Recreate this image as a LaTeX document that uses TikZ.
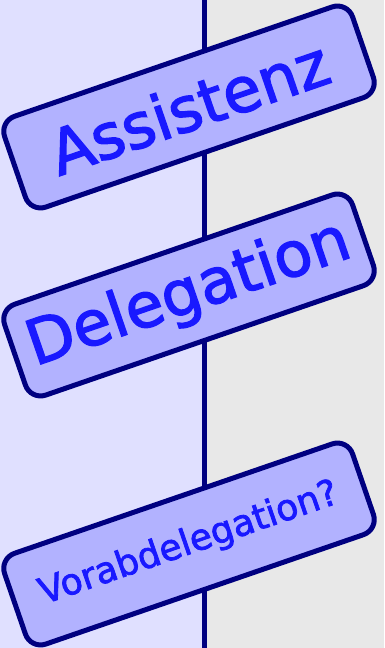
\documentclass[tikz,border=0pt]{standalone}
\usepackage{fontspec}
\newfontfamily\signfont[FakeBold=2.2]{DejaVu Sans}
\usetikzlibrary{positioning}

\begin{document}
\begin{tikzpicture}[x=1pt,y=1pt,
    sign/.style={draw=blue!50!black,fill=blue!30!white,text=blue!90!white,line width=5pt,rounded corners=16pt,minimum width=368pt,minimum height=96pt,inner sep=0pt,rotate=19},
    big/.style={font=\signfont\fontsize{62}{70}\selectfont},
    small/.style={font=\signfont\fontsize{36}{42}\selectfont}]
    % two halves of the background
    \fill[blue!12!white] (0,0) rectangle (204.5,648);
    \fill[gray!18!white] (204.5,0) rectangle (384,648);
    \useasboundingbox (0,0) rectangle (384,648);

    \coordinate (top) at (204.5,648);
    \coordinate (bottom) at (204.5,0);
    \draw[blue!50!black,line width=5pt] (top) -- (bottom);

    \node[sign,big] (assistenz) at (189,541) {Assistenz};
    \node[sign,big] (delegation) at (189,353) {Delegation};
    \node[sign,small] (vorab) at (189,104) {Vorabdelegation?};
\end{tikzpicture}
\end{document}
